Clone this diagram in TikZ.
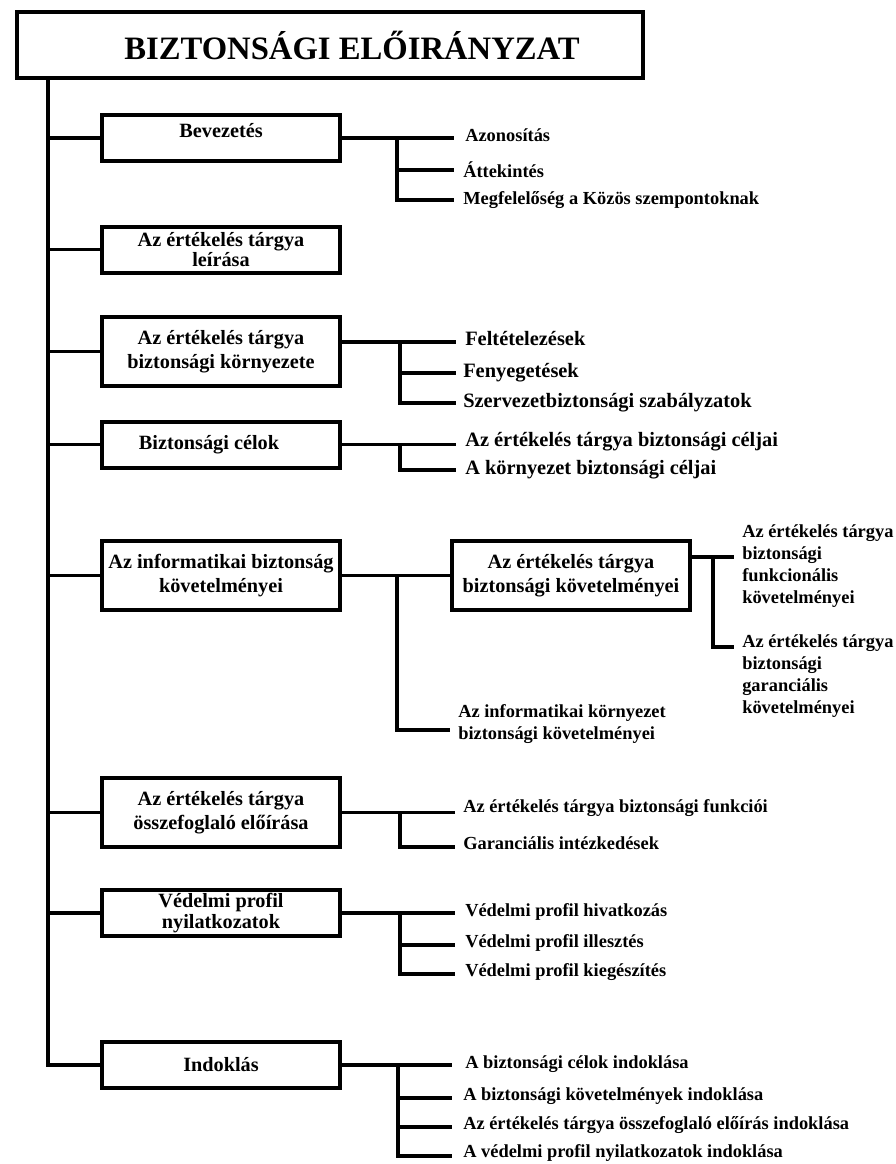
\documentclass[tikz,border=0pt]{standalone}
\usepackage{fontspec}
\setmainfont{Liberation Serif}
\usepackage{tikz}
\pgfdeclarelayer{edgelayer}
\pgfdeclarelayer{nodelayer}
\pgfsetlayers{edgelayer,nodelayer,main}
\tikzset{
	box/.style={draw, line width=3pt, fill=white, minimum width=178.5pt, minimum height=34.5pt, inner sep=0pt, align=center, font=\bfseries\fontsize{15.2}{15.5}\selectfont},
	tallbox/.style={box, minimum height=51.75pt, font=\bfseries\fontsize{15.2}{18}\selectfont},
	titlebox/.style={box, minimum width=469.5pt, minimum height=49.5pt, font=\bfseries\fontsize{24.5}{28}\selectfont},
	txt/.style={anchor=west, inner sep=0pt, align=left, font=\bfseries\fontsize{13.8}{16.5}\selectfont},
	bigtxt/.style={txt, font=\bfseries\fontsize{15.3}{18}\selectfont},
	joint/.style={inner sep=0pt, minimum size=0pt},
	link/.style={line width=2.6pt, line cap=rect}
}
\begin{document}
\begin{tikzpicture}[x=0.75pt, y=-0.75pt]
	\useasboundingbox (0, 0) rectangle (896, 1164);
	\begin{pgfonlayer}{nodelayer}
		\node [style=titlebox] (0) at (330, 45) {\hspace*{33pt}BIZTONSÁGI ELŐIRÁNYZAT};
		\node [style=box] (1) at (221, 138) {\raisebox{12pt}{Bevezetés}};
		\node [style=box] (2) at (221, 249.5) {Az értékelés tárgya\\leírása};
		\node [style=tallbox] (3) at (221, 351.5) {Az értékelés tárgya\\biztonsági környezete};
		\node [style=box] (4) at (221, 444.5) {Biztonsági célok\hspace*{18pt}};
		\node [style=tallbox] (5) at (221, 575.5) {Az informatikai biztonság\\követelményei};
		\node [style=tallbox] (6) at (221, 812.5) {Az értékelés tárgya\\összefoglaló előírása};
		\node [style=box] (7) at (221, 913) {Védelmi profil\\nyilatkozatok};
		\node [style=box] (8) at (221, 1065) {Indoklás};
		\node [style=tallbox] (9) at (571, 575.5) {Az értékelés tárgya\\biztonsági követelményei};
		% trunk
		\node [style=joint] (10) at (48, 60) {};
		\node [style=joint] (11) at (48, 138) {};
		\node [style=joint] (12) at (48, 249.5) {};
		\node [style=joint] (13) at (48, 351.5) {};
		\node [style=joint] (14) at (48, 444.5) {};
		\node [style=joint] (15) at (48, 575.5) {};
		\node [style=joint] (16) at (48, 812.5) {};
		\node [style=joint] (17) at (48, 913) {};
		\node [style=joint] (18) at (48, 1065) {};
		% Bevezetés
		\node [style=joint] (20) at (397, 138) {};
		\node [style=joint] (21) at (397, 170) {};
		\node [style=joint] (22) at (397, 200) {};
		\node [style=joint] (23) at (452, 138) {};
		\node [style=joint] (24) at (452, 170) {};
		\node [style=joint] (25) at (452, 200) {};
		\node [style=txt] (26) at (465, 135) {Azonosítás};
		\node [style=txt] (27) at (463, 170) {Áttekintés};
		\node [style=txt] (28) at (463, 200) {Megfelelőség a Közös szempontoknak};
		% környezete
		\node [style=joint] (30) at (330, 342) {};
		\node [style=joint] (31) at (400, 342) {};
		\node [style=joint] (32) at (400, 373) {};
		\node [style=joint] (33) at (400, 403) {};
		\node [style=joint] (34) at (454, 342) {};
		\node [style=joint] (35) at (454, 373) {};
		\node [style=joint] (36) at (454, 403) {};
		\node [style=bigtxt] (37) at (465, 339) {Feltételezések};
		\node [style=bigtxt] (38) at (463, 373) {Fenyegetések};
		\node [style=bigtxt] (39) at (463, 403) {Szervezetbiztonsági szabályzatok};
		% célok
		\node [style=joint] (40) at (400, 444.5) {};
		\node [style=joint] (41) at (400, 470) {};
		\node [style=joint] (42) at (454, 444.5) {};
		\node [style=joint] (43) at (454, 470) {};
		\node [style=bigtxt] (44) at (465, 442) {Az értékelés tárgya biztonsági céljai};
		\node [style=bigtxt] (45) at (465, 470) {A környezet biztonsági céljai};
		% követelmények
		\node [style=joint] (50) at (397, 575.5) {};
		\node [style=joint] (51) at (397, 730) {};
		\node [style=joint] (52) at (448, 730) {};
		\node [style=txt] (53) at (458, 724) {Az informatikai környezet\\biztonsági követelményei};
		\node [style=joint] (54) at (680, 557) {};
		\node [style=joint] (55) at (713, 557) {};
		\node [style=joint] (56) at (713, 647) {};
		\node [style=joint] (57) at (732, 557) {};
		\node [style=joint] (58) at (732, 647) {};
		\node [style=txt] (59) at (742, 566.5) {Az értékelés tárgya\\biztonsági\\funkcionális\\követelményei};
		\node [style=txt] (60) at (742, 676.5) {Az értékelés tárgya\\biztonsági\\garanciális\\követelményei};
		% összefoglaló előírás
		\node [style=joint] (61) at (400, 812.5) {};
		\node [style=joint] (62) at (400, 847) {};
		\node [style=joint] (63) at (453, 812.5) {};
		\node [style=joint] (64) at (453, 847) {};
		\node [style=txt] (65) at (463, 808) {Az értékelés tárgya biztonsági funkciói};
		\node [style=txt] (66) at (463, 843) {Garanciális intézkedések};
		% védelmi profil
		\node [style=joint] (70) at (400, 913) {};
		\node [style=joint] (71) at (400, 945) {};
		\node [style=joint] (72) at (400, 974) {};
		\node [style=joint] (73) at (453, 913) {};
		\node [style=joint] (74) at (453, 945) {};
		\node [style=joint] (75) at (453, 974) {};
		\node [style=txt] (76) at (465, 912) {Védelmi profil hivatkozás};
		\node [style=txt] (77) at (465, 943) {Védelmi profil illesztés};
		\node [style=txt] (78) at (465, 972) {Védelmi profil kiegészítés};
		% indoklás
		\node [style=joint] (80) at (398, 1065) {};
		\node [style=joint] (81) at (398, 1098) {};
		\node [style=joint] (82) at (398, 1127) {};
		\node [style=joint] (83) at (398, 1156) {};
		\node [style=joint] (84) at (450, 1065) {};
		\node [style=joint] (85) at (450, 1098) {};
		\node [style=joint] (86) at (450, 1127) {};
		\node [style=joint] (87) at (450, 1156) {};
		\node [style=txt] (88) at (465, 1064) {A biztonsági célok indoklása};
		\node [style=txt] (89) at (463, 1096) {A biztonsági követelmények indoklása};
		\node [style=txt] (90) at (463, 1125) {Az értékelés tárgya összefoglaló előírás indoklása};
		\node [style=txt] (91) at (463, 1153) {A védelmi profil nyilatkozatok indoklása};
	\end{pgfonlayer}
	\begin{pgfonlayer}{edgelayer}
		\draw [style=link] (10.center) to (18.center);
		\draw [style=link] (11.center) to (1.center);
		\draw [style=link] (12.center) to (2.center);
		\draw [style=link] (13.center) to (3.center);
		\draw [style=link] (14.center) to (4.center);
		\draw [style=link] (15.center) to (5.center);
		\draw [style=link] (16.center) to (6.center);
		\draw [style=link] (17.center) to (7.center);
		\draw [style=link] (18.center) to (8.center);
		\draw [style=link] (1.center) to (23.center);
		\draw [style=link] (20.center) to (22.center);
		\draw [style=link] (21.center) to (24.center);
		\draw [style=link] (22.center) to (25.center);
		\draw [style=link] (30.center) to (34.center);
		\draw [style=link] (31.center) to (33.center);
		\draw [style=link] (32.center) to (35.center);
		\draw [style=link] (33.center) to (36.center);
		\draw [style=link] (4.center) to (42.center);
		\draw [style=link] (40.center) to (41.center);
		\draw [style=link] (41.center) to (43.center);
		\draw [style=link] (5.center) to (9.center);
		\draw [style=link] (50.center) to (51.center);
		\draw [style=link] (51.center) to (52.center);
		\draw [style=link] (54.center) to (57.center);
		\draw [style=link] (55.center) to (56.center);
		\draw [style=link] (56.center) to (58.center);
		\draw [style=link] (6.center) to (63.center);
		\draw [style=link] (61.center) to (62.center);
		\draw [style=link] (62.center) to (64.center);
		\draw [style=link] (7.center) to (73.center);
		\draw [style=link] (70.center) to (72.center);
		\draw [style=link] (71.center) to (74.center);
		\draw [style=link] (72.center) to (75.center);
		\draw [style=link] (8.center) to (84.center);
		\draw [style=link] (80.center) to (83.center);
		\draw [style=link] (81.center) to (85.center);
		\draw [style=link] (82.center) to (86.center);
		\draw [style=link] (83.center) to (87.center);
	\end{pgfonlayer}
\end{tikzpicture}
\end{document}
